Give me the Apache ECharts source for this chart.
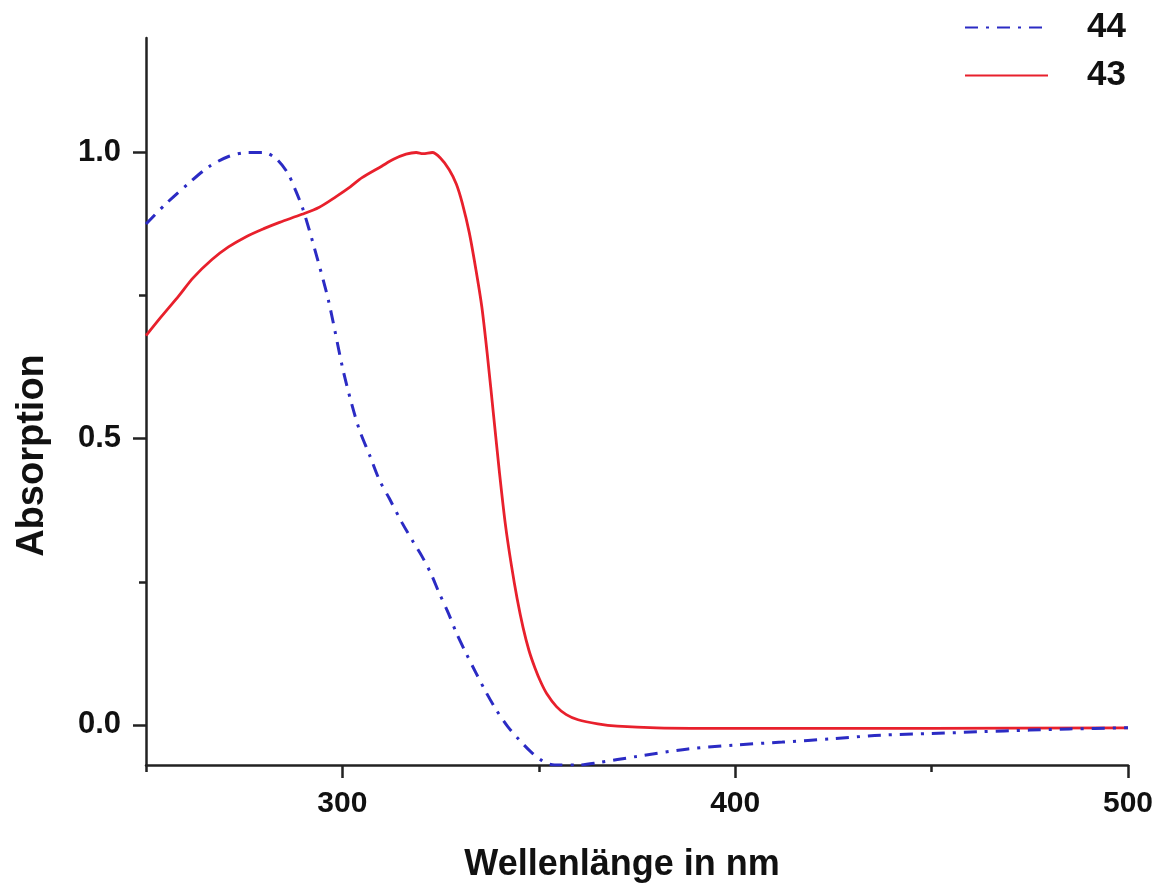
<!DOCTYPE html>
<html>
<head>
<meta charset="utf-8">
<script src="https://cdn.jsdelivr.net/npm/echarts@6/dist/echarts.min.js"></script>
<style>
  html, body { margin: 0; padding: 0; background: #fff; }
  #chart { width: 1155px; height: 883px; }
</style>
</head>
<body>
<div id="chart"></div>
<script>
// Absorption spectra (normalised) of compounds 44 and 43
const seriesNames = ['44', '43'];

const wl44 = [250, 255, 261, 266, 271, 276, 280, 283, 286, 288, 290, 293, 296.5, 300, 302, 304.3, 307, 309.4, 312, 315.2, 318, 320.3, 322.5, 324.6, 327, 329, 331.5, 334, 336.5, 339.2, 342, 345, 348, 351, 354, 360, 365, 375, 388, 400, 412, 425, 437, 450, 462, 475, 485, 500];
const abs44 = [0.875, 0.91, 0.947, 0.975, 0.993, 1.0, 1.0, 0.99, 0.965, 0.935, 0.90, 0.83, 0.74, 0.625, 0.57, 0.516, 0.47, 0.428, 0.395, 0.353, 0.32, 0.294, 0.265, 0.231, 0.195, 0.161, 0.125, 0.091, 0.058, 0.026, -0.002, -0.026, -0.047, -0.063, -0.07, -0.07, -0.066, -0.055, -0.042, -0.035, -0.03, -0.024, -0.018, -0.015, -0.012, -0.009, -0.007, -0.005];

const wl43 = [250, 254, 258.4, 262, 266.8, 271, 275.5, 280, 284, 289.7, 294, 298.4, 302, 305, 310, 313, 316.2, 318.8, 320.5, 322.9, 325, 327.2, 329, 330.5, 332.3, 334, 335.5, 337, 338.5, 340, 341.5, 343, 344.5, 346, 347.5, 349, 350.5, 352, 354.5, 357, 360, 365, 370, 380, 400, 450, 500];
const abs43 = [0.68, 0.714, 0.75, 0.781, 0.813, 0.835, 0.853, 0.867, 0.878, 0.892, 0.904, 0.923, 0.94, 0.956, 0.976, 0.988, 0.997, 1.0, 0.998, 1.0, 0.99, 0.97, 0.945, 0.912, 0.86, 0.795, 0.73, 0.64, 0.54, 0.44, 0.35, 0.28, 0.22, 0.17, 0.13, 0.1, 0.075, 0.055, 0.032, 0.018, 0.009, 0.002, -0.002, -0.005, -0.006, -0.006, -0.005];

const xMajorTicks = [300, 400, 500];
const xMinorTicks = [250, 350, 450];
const yMajorTicks = [0, 0.5, 1.0];
const yMinorTicks = [0.25, 0.75];

const FONT = "'Liberation Sans', Arial, sans-serif";
const AXIS_COLOR = '#222';
const TEXT_COLOR = '#111';

function pairs(xs, ys) { return xs.map((x, i) => [x, ys[i]]); }

const chart = echarts.init(document.getElementById('chart'), null, { renderer: 'canvas' });

const baseX = { type: 'value', min: 250, max: 500, gridIndex: 0, splitLine: { show: false } };
const baseY = { type: 'value', min: -0.07, max: 1.2, gridIndex: 0, splitLine: { show: false } };

chart.setOption({
  animation: false,
  backgroundColor: '#fff',
  textStyle: { fontFamily: FONT },
  grid: { left: 146, right: 27, top: 38, bottom: 118, containLabel: false, outerBoundsMode: 'none' },
  legend: {
    data: seriesNames,
    orient: 'vertical',
    left: 959,
    top: 5,
    itemWidth: 83,
    itemHeight: 14,
    itemGap: 13,
    itemStyle: { opacity: 0 },
    textStyle: { fontFamily: FONT, fontSize: 35, fontWeight: 'bold', color: TEXT_COLOR, lineHeight: 34, padding: [0, 0, 0, 34] }
  },
  xAxis: [
    Object.assign({}, baseX, {
      position: 'bottom',
      axisLine: { show: true, onZero: false, lineStyle: { color: AXIS_COLOR, width: 2.5 } },
      axisTick: { show: true, customValues: xMajorTicks, length: 13, lineStyle: { color: AXIS_COLOR, width: 2.5 } },
      axisLabel: { customValues: xMajorTicks, fontFamily: FONT, fontSize: 30, fontWeight: 'bold', color: TEXT_COLOR, margin: 24 },
      name: 'Wellenlänge in nm',
      nameLocation: 'middle',
      nameGap: 82,
      nameTextStyle: { fontFamily: FONT, fontSize: 36, fontWeight: 'bold', color: TEXT_COLOR, padding: [0, 30, 0, 0] }
    }),
    Object.assign({}, baseX, {
      position: 'bottom',
      axisLine: { show: false, onZero: false },
      axisTick: { show: true, customValues: xMinorTicks, length: 7, lineStyle: { color: AXIS_COLOR, width: 2.5 } },
      axisLabel: { show: false }
    })
  ],
  yAxis: [
    Object.assign({}, baseY, {
      position: 'left',
      axisLine: { show: true, onZero: false, lineStyle: { color: AXIS_COLOR, width: 2.5 } },
      axisTick: { show: true, customValues: yMajorTicks, length: 13, lineStyle: { color: AXIS_COLOR, width: 2.5 } },
      axisLabel: { customValues: yMajorTicks, formatter: v => Number(v).toFixed(1), fontFamily: FONT, fontSize: 31, fontWeight: 'bold', color: TEXT_COLOR, margin: 25 },
      name: 'Absorption',
      nameLocation: 'middle',
      nameGap: 94,
      nameRotate: 90,
      nameTextStyle: { fontFamily: FONT, fontSize: 38, fontWeight: 'bold', color: TEXT_COLOR, padding: [0, 108, 0, 0] }
    }),
    Object.assign({}, baseY, {
      position: 'left',
      axisLine: { show: false, onZero: false },
      axisTick: { show: true, customValues: yMinorTicks, length: 7, lineStyle: { color: AXIS_COLOR, width: 2.5 } },
      axisLabel: { show: false }
    })
  ],
  series: [
    {
      name: '44',
      type: 'line',
      xAxisIndex: 0,
      yAxisIndex: 0,
      data: pairs(wl44, abs44),
      symbol: 'none',
      showSymbol: false,
      smooth: 0.3,
      lineStyle: { color: '#2b2bc4', width: 3, type: [13, 8, 3, 8] },
      itemStyle: { color: '#2b2bc4' },
      z: 3
    },
    {
      name: '43',
      type: 'line',
      xAxisIndex: 0,
      yAxisIndex: 0,
      data: pairs(wl43, abs43),
      symbol: 'none',
      showSymbol: false,
      smooth: 0.3,
      lineStyle: { color: '#e8202c', width: 2.8, type: 'solid' },
      itemStyle: { color: '#e8202c' },
      z: 2
    }
  ]
});
</script>
</body>
</html>
